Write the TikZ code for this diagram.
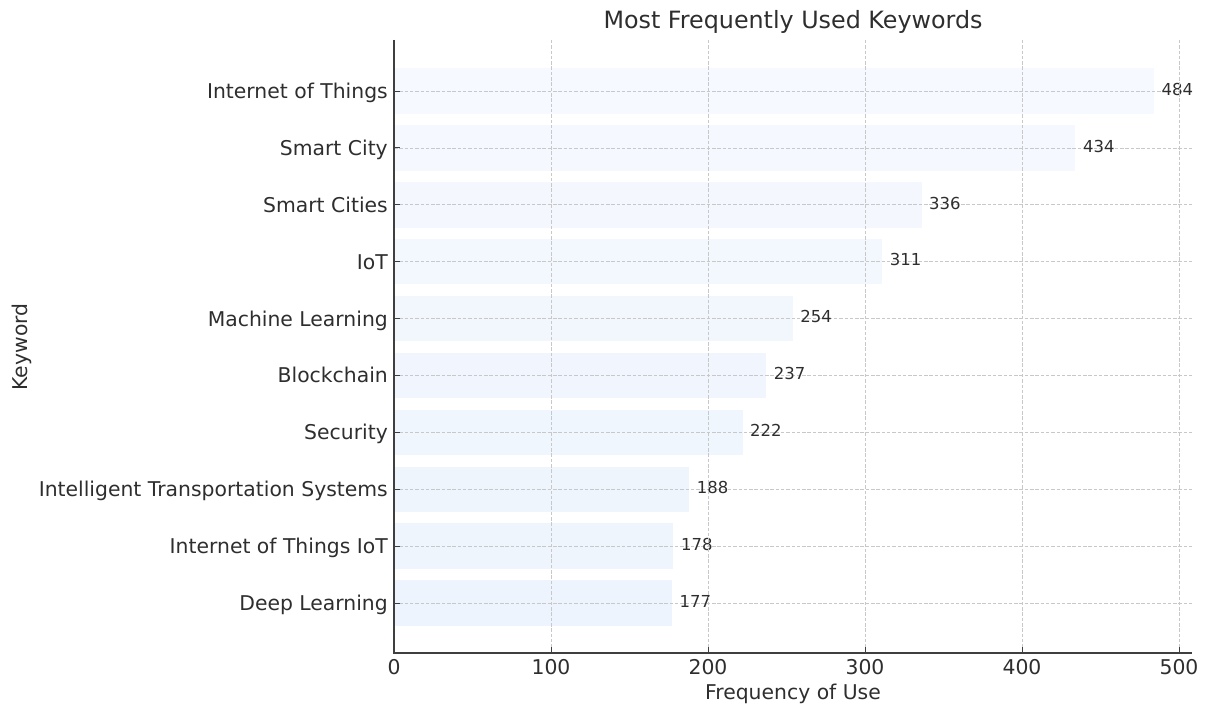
\documentclass[tikz,border=0pt]{standalone}
\usepackage{fontspec}
\setmainfont{DejaVu Sans}
\usetikzlibrary{positioning}

\definecolor{spine}{HTML}{3F3F3F}
\definecolor{gridc}{HTML}{C8C8C8}
\definecolor{txt}{HTML}{2E2E2E}
\definecolor{barhi}{RGB}{246,249,255}
\definecolor{barlo}{RGB}{237,244,253}

\tikzset{
  ticklabel/.style={font=\fontsize{20.35}{24}\selectfont, text=txt, inner sep=0pt},
  vallabel/.style={font=\fontsize{16.5}{20}\selectfont, text=txt, anchor=base west, inner sep=0pt},
  gridline/.style={gridc, line width=0.8pt, dash pattern=on 3.5pt off 1.8pt},
  spineline/.style={spine, line width=1.6pt},
}

\begin{document}
\begin{tikzpicture}[x=1pt,y=-1pt]
    \useasboundingbox (0,0) rectangle (1205,709);

    % bars, keyword labels and counts
    \foreach \name/\val [count=\k from 0] in {Internet of Things/484, Smart City/434, Smart Cities/336, IoT/311, Machine Learning/254, Blockchain/237, Security/222, Intelligent Transportation Systems/188, Internet of Things IoT/178, Deep Learning/177} {
        \pgfmathsetmacro\yc{91+56.9*\k}
        \pgfmathsetmacro\xe{394+1.57*\val}
        \pgfmathtruncatemacro\mix{100-11*\k}
        \fill[barhi!\mix!barlo] (394,\yc-22.75) rectangle (\xe,\yc+22.75);
        \draw[gridline] (394,\yc) -- (1192,\yc);
        \draw[spineline, line width=1pt] (394,\yc) -- (400,\yc);
        \node[ticklabel, anchor=base east] (kw\k) at (388,\yc+7.4) {\name};
        \node[vallabel] (val\k) at (\xe+7.5,\yc+4.2) {\val};
    }

    % vertical grid and x ticks
    \foreach \v in {0,100,...,500} {
        \pgfmathsetmacro\xv{394+1.57*\v}
        \draw[gridline] (\xv,40) -- (\xv,653);
        \draw[spineline, line width=1pt] (\xv,653) -- (\xv,647);
        \node[ticklabel, anchor=north] (xt\v) at (\xv,659.5) {\v};
    }

    % axes
    \draw[spineline] (394,40) -- (394,653) -- (1192,653);

    % titles
    \node[ticklabel, font=\fontsize{23.8}{28}\selectfont] (title) at (793,22) {Most Frequently Used Keywords};
    \node[ticklabel] (xlabel) at (793,694) {Frequency of Use};
    \node[ticklabel, rotate=90] (ylabel) at (22,347) {Keyword};
\end{tikzpicture}
\end{document}
